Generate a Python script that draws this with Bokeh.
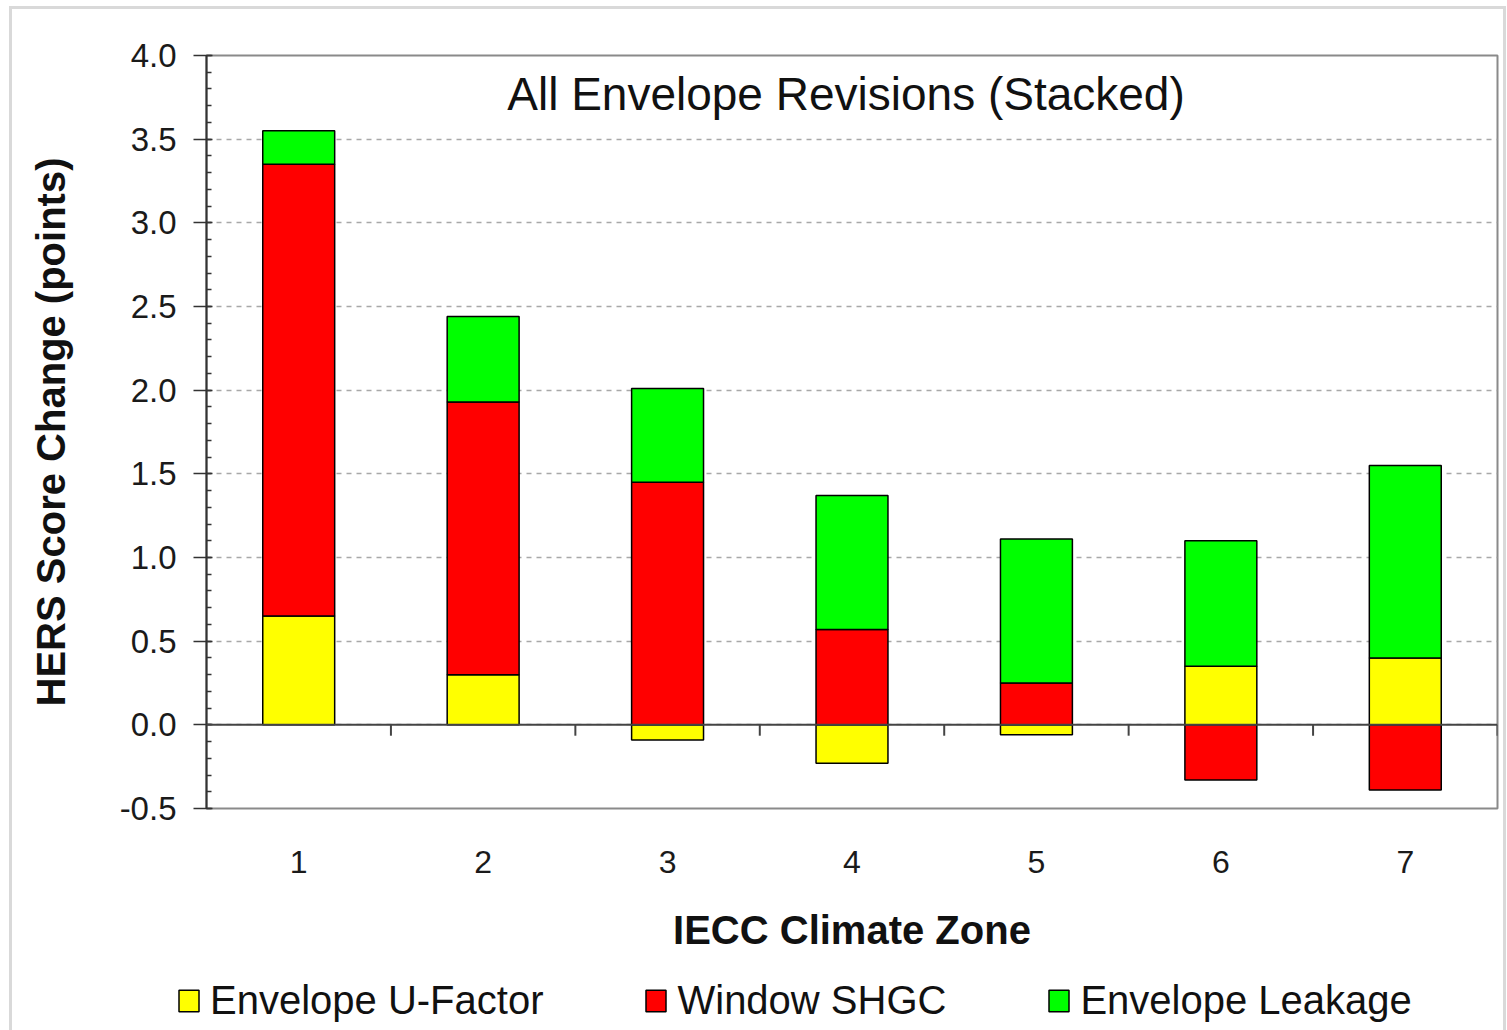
import numpy as np
from bokeh.plotting import figure
from bokeh.layouts import column
from bokeh.models import (Range1d, FixedTicker, Span, Legend, LegendItem, Label,
                          NumeralTickFormatter)
from bokeh.embed import file_html
from bokeh.resources import INLINE

# IECC climate zones on the category axis
zones = ["1", "2", "3", "4", "5", "6", "7"]

# HERS score change (points) contributed by each envelope revision
u_factor = [0.65, 0.30, -0.09, -0.23, -0.06, 0.35, 0.40]
window_shgc = [2.70, 1.63, 1.45, 0.57, 0.25, -0.33, -0.39]
leakage = [0.20, 0.51, 0.56, 0.80, 0.86, 0.75, 1.15]

series_names = ["Envelope U-Factor", "Window SHGC", "Envelope Leakage"]
series_values = [u_factor, window_shgc, leakage]
series_colors = ["#ffff00", "#ff0000", "#00ff00"]

y_major = [-0.5, 0.0, 0.5, 1.0, 1.5, 2.0, 2.5, 3.0, 3.5, 4.0]

FONT = "Liberation Sans"
TOTAL_W = 1491

x_pos = np.arange(1, len(zones) + 1)
y_minor = [round(v, 1) for v in np.arange(y_major[0], y_major[-1] + 0.001, 0.1)]

# stacked segments: positive parts stack upward, negative parts downward
stacks = []
pos_base = np.zeros(len(zones))
neg_base = np.zeros(len(zones))
for vals in series_values:
    v = np.array(vals, dtype=float)
    bottom = np.where(v >= 0, pos_base, neg_base)
    top = bottom + v
    stacks.append((bottom, top))
    pos_base = np.where(v >= 0, top, pos_base)
    neg_base = np.where(v < 0, top, neg_base)

p = figure(frame_width=1291, frame_height=753,
           x_range=Range1d(0.5, len(zones) + 0.5),
           y_range=Range1d(y_major[0], y_major[-1]),
           output_backend="svg", toolbar_location=None,
           min_border_left=194, min_border_right=6,
           min_border_top=46, min_border_bottom=150,
           background_fill_color="white", border_fill_color="white")

for (bottom, top), color in zip(stacks, series_colors):
    p.vbar(x=x_pos, width=0.39, bottom=bottom, top=top,
           fill_color=color, line_color="black", line_width=1.5)

# zero line with category separator ticks
p.add_layout(Span(location=0, dimension="width", line_color="#444444",
                  line_width=2, level="overlay"))
bounds = x_pos + 0.5
p.segment(x0=bounds, y0=np.zeros(len(bounds)), x1=bounds,
          y1=np.full(len(bounds), -0.065), line_color="#444444", line_width=2)

# chart title inside the plot area
p.add_layout(Label(x=x_pos.mean(), y=3.77, x_offset=-6,
                   text="All Envelope Revisions (Stacked)",
                   text_align="center", text_baseline="alphabetic",
                   text_font=FONT, text_font_size="46px", text_color="#111111"))

# frame
p.outline_line_color = "#8a8a8a"
p.outline_line_width = 2
p.xgrid.visible = False
p.ygrid.ticker = FixedTicker(ticks=y_major)
p.ygrid.grid_line_color = "#a8a8a8"
p.ygrid.grid_line_dash = "5 5"
p.ygrid.grid_line_width = 1.5

# y axis
ya = p.yaxis[0]
ya.ticker = FixedTicker(ticks=y_major, minor_ticks=y_minor)
ya.formatter = NumeralTickFormatter(format="0.0")
ya.axis_line_color = "#333333"
ya.axis_line_width = 2
ya.major_tick_out = 13
ya.major_tick_in = 6
ya.minor_tick_in = 5
ya.minor_tick_out = 0
ya.major_tick_line_color = "#333333"
ya.minor_tick_line_color = "#333333"
ya.major_tick_line_width = 1.5
ya.minor_tick_line_width = 1.5
ya.major_label_standoff = 17
ya.major_label_text_font = FONT
ya.major_label_text_font_size = "33px"
ya.major_label_text_color = "#1a1a1a"
ya.axis_label = "HERS Score Change (points)"
ya.axis_label_text_font = FONT
ya.axis_label_text_font_size = "40px"
ya.axis_label_text_font_style = "bold"
ya.axis_label_text_color = "#111111"
ya.axis_label_standoff = 44

# x axis (labels only, below the frame)
xa = p.xaxis[0]
xa.ticker = FixedTicker(ticks=list(x_pos))
xa.major_label_overrides = {int(i): z for i, z in zip(x_pos, zones)}
xa.axis_line_color = None
xa.major_tick_line_color = None
xa.minor_tick_line_color = None
xa.major_tick_out = 0
xa.major_tick_in = 0
xa.major_label_standoff = 42
xa.major_label_text_font = FONT
xa.major_label_text_font_size = "32px"
xa.major_label_text_color = "#1a1a1a"
xa.axis_label = "IECC Climate Zone"
xa.axis_label_text_font = FONT
xa.axis_label_text_font_size = "40px"
xa.axis_label_text_font_style = "bold"
xa.axis_label_text_color = "#111111"
xa.axis_label_standoff = 32

# legend strip: same series drawn outside its visible range, legend only
lf = figure(frame_width=TOTAL_W, frame_height=90,
            x_range=Range1d(100, 101), y_range=Range1d(100, 101),
            x_axis_location=None, y_axis_location=None,
            output_backend="svg", toolbar_location=None,
            min_border_left=0, min_border_right=0,
            min_border_top=0, min_border_bottom=0,
            background_fill_color="white", border_fill_color="white")
lf.grid.visible = False
lf.outline_line_color = None
items = []
for name, (bottom, top), color in zip(series_names, stacks, series_colors):
    sw = lf.vbar(x=x_pos, width=0.39, bottom=bottom, top=top,
                 fill_color=color, line_color="black", line_width=1.5)
    items.append(LegendItem(label=name, renderers=[sw]))

legend = Legend(items=items, orientation="horizontal", location=(164, 25),
                label_text_font=FONT, label_text_font_size="40px",
                label_text_color="#111111",
                glyph_width=25, glyph_height=27, label_standoff=9,
                spacing=100, padding=10, margin=0,
                border_line_color=None, background_fill_alpha=0)
lf.add_layout(legend, "center")

layout = column(p, lf, spacing=0,
                styles={"border": "3px solid #d9d9d9", "margin-left": "9px",
                        "margin-top": "6px", "background-color": "white"})

open("out.html", "w").write(file_html(layout, INLINE))
